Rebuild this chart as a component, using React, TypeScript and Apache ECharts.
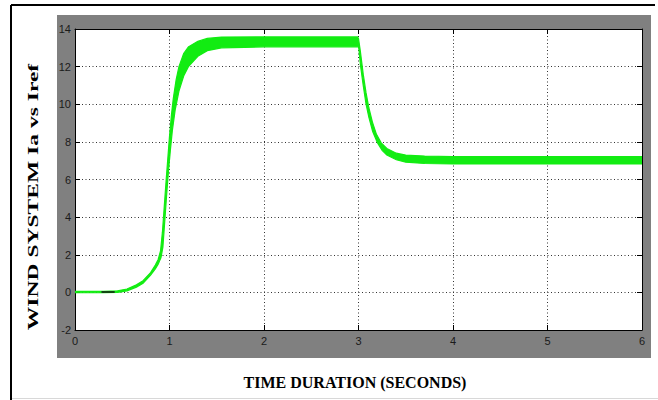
import React, { useEffect, useRef } from "react";
import * as echarts from "echarts";

// x ticks (seconds) and y ticks
const xTicks = [0, 1, 2, 3, 4, 5, 6];
const yTicks = [-2, 0, 2, 4, 6, 8, 10, 12, 14];

// Upper edge of the green Ia ripple band: [time (s), current]
const upperEdge: number[][] = [
  [0, 0.05], [0.3, 0.05], [0.45, 0.08], [0.55, 0.18], [0.65, 0.4], [0.72, 0.62],
  [0.8, 1.05], [0.85, 1.45], [0.88, 1.75], [0.905, 2.2], [0.925, 3.2], [0.945, 4.6],
  [0.965, 6.0], [0.985, 7.3], [1.0, 8.3], [1.02, 9.4], [1.04, 10.3], [1.07, 11.3],
  [1.1, 12.0], [1.15, 12.7], [1.2, 13.05], [1.3, 13.35], [1.4, 13.5], [1.55, 13.57],
  [2.0, 13.58], [2.99, 13.58], [3.0, 13.5], [3.02, 12.8], [3.05, 11.6], [3.08, 10.6],
  [3.11, 9.8], [3.15, 9.0], [3.19, 8.4], [3.24, 7.95], [3.3, 7.65], [3.4, 7.4],
  [3.5, 7.3], [3.7, 7.25], [4.0, 7.22], [5.0, 7.22], [6.0, 7.22],
];

// Lower edge of the green Ia ripple band: [time (s), current]
const lowerEdge: number[][] = [
  [0, -0.02], [0.3, -0.02], [0.45, 0.0], [0.55, 0.08], [0.65, 0.28], [0.72, 0.48],
  [0.8, 0.92], [0.85, 1.25], [0.88, 1.5], [0.91, 1.85], [0.93, 2.4], [0.95, 3.8],
  [0.97, 5.2], [0.99, 6.5], [1.01, 7.6], [1.03, 8.6], [1.06, 9.7], [1.1, 10.7],
  [1.15, 11.5], [1.2, 12.0], [1.3, 12.55], [1.4, 12.85], [1.55, 13.0], [2.0, 13.05],
  [3.0, 13.05], [3.005, 12.9], [3.02, 12.1], [3.05, 11.0], [3.08, 10.0], [3.11, 9.3],
  [3.15, 8.55], [3.2, 7.95], [3.25, 7.55], [3.3, 7.3], [3.4, 7.05], [3.5, 6.92],
  [3.7, 6.85], [4.0, 6.83], [5.0, 6.83], [6.0, 6.83],
];

// Visible piece of the black Iref trace
const irefTrace: number[][] = [[0.28, 0.02], [0.42, 0.02]];

const GREEN = "#12ec12";
const labelFont = '"Liberation Sans Narrow", "Liberation Sans", Arial, sans-serif';

export default function App() {
  const ref = useRef<HTMLDivElement>(null);
  useEffect(() => {
    if (!ref.current) return;
    const chart = echarts.init(ref.current, undefined, { renderer: "svg" });
    const axisCommon = {
      type: "value" as const,
      axisLine: { show: true, onZero: false, lineStyle: { color: "#000", width: 1 } },
      axisTick: { show: true, inside: true, length: 5, lineStyle: { color: "#000" } },
    };
    chart.setOption({
      animation: false,
      backgroundColor: "#fff",
      grid: { left: 75, top: 29, width: 567, height: 301, show: false },
      graphic: [
        { type: "rect", z: -10, shape: { x: 57, y: 15, width: 594, height: 343 }, style: { fill: "#808080" } },
        { type: "rect", z: -9, shape: { x: 75, y: 29, width: 567, height: 301 }, style: { fill: "#fff" } },
        { type: "line", shape: { x1: 11, y1: 5, x2: 655, y2: 5 }, style: { stroke: "#000", lineWidth: 2 } },
        { type: "line", shape: { x1: 11, y1: 5, x2: 11, y2: 400 }, style: { stroke: "#000", lineWidth: 2 } },
        { type: "line", shape: { x1: 12, y1: 398.5, x2: 658, y2: 398.5 }, style: { stroke: "#d8d8d8", lineWidth: 1 } },
        {
          type: "text", x: 355, y: 382,
          style: {
            text: "TIME DURATION (SECONDS)", font: 'bold 16px "Liberation Serif", "Times New Roman", serif',
            fill: "#000", align: "center", verticalAlign: "middle", textAlign: "center", textVerticalAlign: "middle",
          },
        },
        {
          type: "text", x: 33, y: 197, rotation: Math.PI / 2, scaleX: 1.57,
          style: {
            text: "WIND SYSTEM Ia vs Iref", font: 'bold 15px "Liberation Serif", "Times New Roman", serif',
            fill: "#000", align: "center", verticalAlign: "middle", textAlign: "center", textVerticalAlign: "middle",
          },
        },
      ],
      xAxis: [
        {
          ...axisCommon, position: "bottom", min: xTicks[0], max: xTicks[xTicks.length - 1], interval: 1,
          axisLabel: { show: true, color: "#1a1a1a", fontSize: 11, fontFamily: labelFont, margin: 5 },
          splitLine: { show: true, lineStyle: { color: "#333", type: [1, 2.5], width: 1 } },
        },
        {
          ...axisCommon, position: "top", min: xTicks[0], max: xTicks[xTicks.length - 1], interval: 1,
          axisLabel: { show: false }, splitLine: { show: false },
        },
      ],
      yAxis: [
        {
          ...axisCommon, position: "left", min: yTicks[0], max: yTicks[yTicks.length - 1], interval: 2,
          axisLabel: { show: true, color: "#1a1a1a", fontSize: 11, fontFamily: labelFont, margin: 4 },
          splitLine: { show: true, lineStyle: { color: "#333", type: [1, 2.5], width: 1 } },
        },
        {
          ...axisCommon, position: "right", min: yTicks[0], max: yTicks[yTicks.length - 1], interval: 2,
          axisLabel: { show: false }, splitLine: { show: false },
        },
      ],
      series: [
        {
          type: "custom",
          xAxisIndex: 0,
          yAxisIndex: 0,
          clip: true,
          data: [[0, 0]],
          renderItem: (_params: any, api: any) => {
            const pts: number[][] = [];
            upperEdge.forEach((p) => pts.push(api.coord(p)));
            for (let i = lowerEdge.length - 1; i >= 0; i--) pts.push(api.coord(lowerEdge[i]));
            return {
              type: "polygon",
              shape: { points: pts },
              style: { fill: GREEN, stroke: GREEN, lineWidth: 1.2 },
            };
          },
          z: 3,
        },
        {
          type: "line",
          xAxisIndex: 0,
          yAxisIndex: 0,
          data: irefTrace,
          showSymbol: false,
          lineStyle: { color: "#111", width: 1.5 },
          z: 4,
        },
      ],
    });
    return () => chart.dispose();
  }, []);
  return <div ref={ref} style={{ position: "fixed", left: 0, top: 0, width: 658, height: 400 }} />;
}
